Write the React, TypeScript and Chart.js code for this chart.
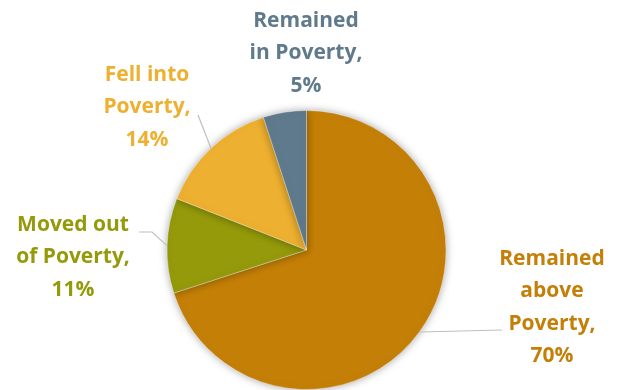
import React, { useEffect, useRef } from "react";
import { Chart, registerables } from "chart.js";

Chart.register(...registerables);

const categories = ["Remained above Poverty", "Moved out of Poverty", "Fell into Poverty", "Remained in Poverty"];
const values = [70, 11, 14, 5];
const labelLines = [
  ["Remained", "above", "Poverty,", "70%"],
  ["Moved out", "of Poverty,", "11%"],
  ["Fell into", "Poverty,", "14%"],
  ["Remained", "in Poverty,", "5%"],
];
const colors = ["#C47F07", "#949A0A", "#EDB030", "#5F7A8C"];

// label layout: text center x, first line center y, leader elbow points
const labelLayout = [
  { x: 552, y: 259, path: [[502, 330]] },
  { x: 73, y: 225, path: [[152, 232], [139, 232]] },
  { x: 147, y: 75, path: [[198, 115]] },
  { x: 306, y: 21, path: [] as number[][] },
];
const LINE_H = 32.5;
const FONT = "bold 21px 'Open Sans'";

const shadowPlugin = {
  id: "pieShadow",
  beforeDatasetsDraw(chart: any) {
    const ctx = chart.ctx;
    ctx.save();
    ctx.shadowColor = "rgba(0,0,0,0.35)";
    ctx.shadowBlur = 9;
    ctx.shadowOffsetX = 0;
    ctx.shadowOffsetY = 0;
  },
  afterDatasetsDraw(chart: any) {
    chart.ctx.restore();
  },
};

const labelPlugin = {
  id: "pieLabels",
  afterDraw(chart: any) {
    const ctx = chart.ctx;
    const meta = chart.getDatasetMeta(0);
    meta.data.forEach((arc: any, i: number) => {
      const { x, y, startAngle, endAngle, outerRadius } = arc.getProps(
        ["x", "y", "startAngle", "endAngle", "outerRadius"],
        true
      );
      const mid = (startAngle + endAngle) / 2;
      const ex = x + Math.cos(mid) * outerRadius;
      const ey = y + Math.sin(mid) * outerRadius;
      const lay = labelLayout[i];
      ctx.save();
      if (lay.path.length) {
        ctx.strokeStyle = "#BFBFBF";
        ctx.lineWidth = 1.2;
        ctx.beginPath();
        ctx.moveTo(ex, ey);
        lay.path.forEach((p) => ctx.lineTo(p[0], p[1]));
        ctx.stroke();
      }
      ctx.fillStyle = colors[i];
      ctx.font = FONT;
      ctx.textAlign = "center";
      ctx.textBaseline = "middle";
      labelLines[i].forEach((t, k) => {
        ctx.fillText(t, lay.x, lay.y + k * LINE_H);
      });
      ctx.restore();
    });
  },
};

export default function App() {
  const ref = useRef<HTMLCanvasElement>(null);
  useEffect(() => {
    if (!ref.current) return;
    const chart = new Chart(ref.current, {
      type: "pie",
      data: {
        labels: categories,
        datasets: [
          {
            data: values,
            backgroundColor: colors,
            borderColor: "rgba(255,255,255,0.35)",
            borderWidth: 1,
            hoverOffset: 0,
          },
        ],
      },
      options: {
        animation: false,
        responsive: false,
        events: [],
        layout: { padding: { top: 110, bottom: 0, left: 166, right: 174 } },
        plugins: {
          legend: { display: false },
          tooltip: { enabled: false },
        },
      },
      plugins: [shadowPlugin, labelPlugin],
    });
    return () => chart.destroy();
  }, []);
  return (
    <div style={{ position: "fixed", left: 0, top: 0, width: 621, height: 390, background: "#fff" }}>
      <canvas ref={ref} width={621} height={390} style={{ width: 621, height: 390, display: "block" }} />
    </div>
  );
}
